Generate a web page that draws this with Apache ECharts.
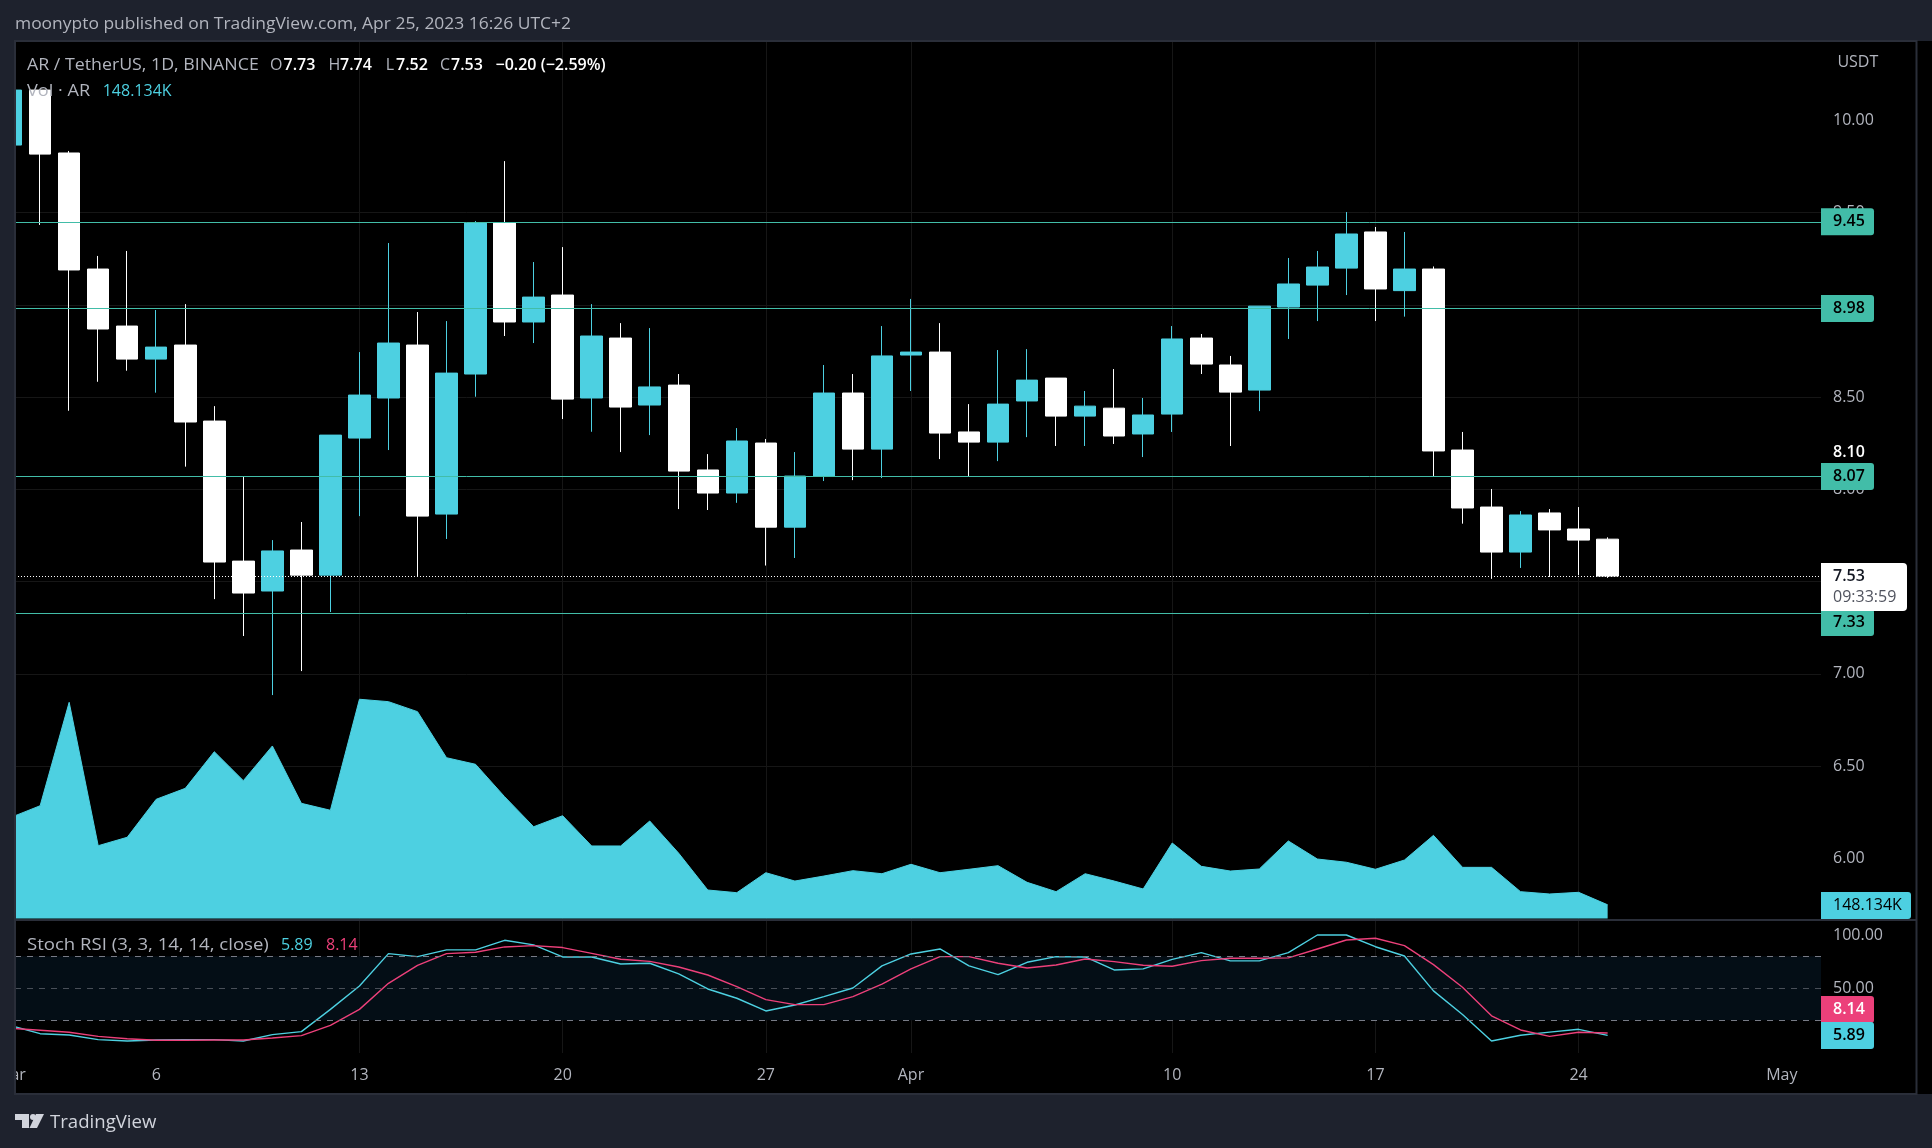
<!DOCTYPE html>
<html><head><meta charset="utf-8">
<style>html,body{margin:0;padding:0;background:#1e222d}#c{width:1932px;height:1148px}</style>
<script src="https://cdn.jsdelivr.net/npm/echarts@6/dist/echarts.min.js"></script>
</head><body><div id="c"></div>
<script>
const dates = ['2023-03-01','2023-03-02','2023-03-03','2023-03-04','2023-03-05','2023-03-06','2023-03-07','2023-03-08','2023-03-09','2023-03-10','2023-03-11','2023-03-12','2023-03-13','2023-03-14','2023-03-15','2023-03-16','2023-03-17','2023-03-18','2023-03-19','2023-03-20','2023-03-21','2023-03-22','2023-03-23','2023-03-24','2023-03-25','2023-03-26','2023-03-27','2023-03-28','2023-03-29','2023-03-30','2023-03-31','2023-04-01','2023-04-02','2023-04-03','2023-04-04','2023-04-05','2023-04-06','2023-04-07','2023-04-08','2023-04-09','2023-04-10','2023-04-11','2023-04-12','2023-04-13','2023-04-14','2023-04-15','2023-04-16','2023-04-17','2023-04-18','2023-04-19','2023-04-20','2023-04-21','2023-04-22','2023-04-23','2023-04-24','2023-04-25'];
const opens = [9.866,10.164,9.823,9.194,8.885,8.706,8.782,8.37,7.611,7.449,7.671,7.535,8.278,8.495,8.782,7.866,8.625,9.443,8.907,9.053,8.495,8.82,8.457,8.565,8.105,7.98,8.251,7.795,8.072,8.522,8.218,8.728,8.744,8.311,8.256,8.479,8.603,8.397,8.44,8.3,8.408,8.82,8.674,8.538,8.988,9.107,9.199,9.395,9.077,9.194,8.213,7.904,7.66,7.872,7.785,7.73];
const closes = [10.164,9.817,9.189,8.869,8.706,8.771,8.365,7.606,7.438,7.666,7.535,8.294,8.511,8.793,7.855,8.63,9.443,8.907,9.042,8.489,8.831,8.446,8.555,8.099,7.98,8.262,7.795,8.072,8.522,8.218,8.723,8.744,8.305,8.256,8.462,8.592,8.397,8.451,8.289,8.403,8.815,8.679,8.527,8.993,9.113,9.205,9.384,9.086,9.194,8.208,7.899,7.66,7.861,7.78,7.725,7.53];
const lows = [9.866,9.433,8.426,8.583,8.643,8.524,8.123,7.405,7.205,6.885,7.015,7.335,7.855,8.213,7.526,7.731,8.502,8.831,8.793,8.381,8.312,8.202,8.294,7.893,7.888,7.927,7.587,7.628,8.045,8.05,8.061,8.533,8.164,8.072,8.153,8.283,8.235,8.235,8.246,8.175,8.311,8.625,8.235,8.424,8.815,8.912,9.053,8.912,8.936,8.072,7.814,7.515,7.574,7.525,7.535,7.52];
const highs = [10.164,10.164,9.834,9.265,9.292,8.972,9.004,8.451,8.072,7.725,7.823,8.294,8.744,9.335,8.961,8.912,9.454,9.779,9.232,9.313,9.004,8.901,8.874,8.625,8.191,8.332,8.273,8.202,8.674,8.625,8.885,9.032,8.901,8.462,8.755,8.76,8.603,8.533,8.652,8.495,8.885,8.842,8.723,8.993,9.254,9.292,9.503,9.422,9.395,9.208,8.311,8.002,7.882,7.893,7.904,7.74];
const volumes = [1094,1219,2337,787,878,1289,1407,1803,1490,1865,1245,1170,2370,2344,2236,1738,1667,1317,992,1111,784,784,1054,705,308,279,495,405,459,517,484,586,495,532,571,391,290,484,405,319,816,564,513,535,838,643,608,532,632,899,553,553,290,265,283,148.134];
const stochK = [15,7.5,6.3,1.9,0.6,1.6,1.9,1.9,0.6,6.6,9.4,30.3,52.2,82.5,79.7,86,86,95,90.7,79.4,79.4,72.8,73.5,63.5,49.4,40.7,28.8,34.4,42.2,50.3,71,82.2,86.9,71,62.8,74.4,79.7,79.4,67.2,68.2,77.2,83.5,75.7,75.7,83.5,100,100,89,80.3,47.6,25.5,0.6,6,9,11.6,5.89];
const stochD = [12.5,10.7,8.8,5,2.8,1.3,1.3,1.6,1.6,3.5,5.7,15.3,30.3,54.7,71.6,82.5,83.8,88.8,90,88.2,82.8,77.2,75.3,70,62.5,51.6,39.4,34.7,34.7,42.2,54,68.2,79.7,79.7,73.5,69,71.9,77.5,75,71.6,70.7,76,78.2,78.2,78.5,86.9,95.3,96.9,90,72.2,51,24.2,11,5,8.8,8.14];
const priceTicks = [10,9.5,9,8.5,8,7.5,7,6.5,6];
const stochTicks = [100,50,0];
const stochLevels = [80,50,20];
const supportLevels = [9.45,8.98,8.07,7.33];
const timeTickDates = ['2023-03-06','2023-03-13','2023-03-20','2023-03-27','2023-04-01','2023-04-10','2023-04-17','2023-04-24','2023-05-01'];
const timeTickLabels = ['6','13','20','27','Apr','10','17','24','May'];
const lastPrice = 7.53;

const UP='#4dd0e1', DOWN='#ffffff', TEAL='#42bda8', PINK='#ec407a', GRID='#161616', TXT='#b2b5be', BG='#1e222d';
const FONT='"Open Sans", sans-serif', FS=16;
const DAY = 86400000, T0 = Date.parse(dates[0]+'T00:00:00Z');
const dayOf = d => Math.round((Date.parse(d+'T00:00:00Z')-T0)/DAY);
const xMin = 0.134, xMax = 62.35;
const tickDays = timeTickDates.map(dayOf);
const tickMap = {}; tickDays.forEach((t,i)=>tickMap[t]=timeTickLabels[i]);

const candles = dates.map((d,i)=>[dayOf(d),opens[i],closes[i],lows[i],highs[i]]);
const xy = arr => dates.map((d,i)=>[dayOf(d),arr[i]]);
const xAxisBase = {type:'value',min:xMin,max:xMax,axisLine:{show:false},axisTick:{show:false,customValues:tickDays},
  splitLine:{show:true,showMinLine:false,showMaxLine:false,lineStyle:{color:GRID,width:1}},minorTick:{show:false}};
const dashed = (v,op)=>({yAxis:v,lineStyle:{color:'#787b86',type:[6,6],width:1,opacity:op}});

const chart = echarts.init(document.getElementById('c'),null,{renderer:'canvas'});
chart.setOption({
  animation:false, backgroundColor:BG,
  grid:[{left:15,width:1806,top:41,height:877.5},{left:15,width:1806,top:921,height:132}],
  xAxis:[
    Object.assign({},xAxisBase,{gridIndex:0,axisLabel:{show:false,customValues:tickDays}}),
    Object.assign({},xAxisBase,{gridIndex:1,axisLabel:{show:true,customValues:tickDays,color:TXT,fontFamily:FONT,fontSize:FS,margin:14,hideOverlap:false,showMinLabel:true,showMaxLabel:true,formatter:v=>tickMap[v]||''}})
  ],
  yAxis:[
    {type:'value',gridIndex:0,position:'right',min:5.674,max:10.43,axisLine:{show:false},
      axisTick:{show:false,customValues:priceTicks},splitLine:{show:true,showMinLine:false,showMaxLine:false,lineStyle:{color:GRID}},
      axisLabel:{color:TXT,fontFamily:FONT,fontSize:FS,margin:12,padding:[2,0,0,0],customValues:priceTicks,formatter:v=>v.toFixed(2)}},
    {type:'value',gridIndex:0,position:'left',min:0,max:9486,show:false,splitLine:{show:false}},
    {type:'value',gridIndex:1,position:'right',min:-10.6,max:113.1,axisLine:{show:false},
      axisTick:{show:false,customValues:stochTicks},splitLine:{show:true,showMinLine:false,showMaxLine:false,lineStyle:{color:GRID}},
      axisLabel:{color:TXT,fontFamily:FONT,fontSize:FS,margin:12,padding:[2,0,0,0],customValues:stochTicks,formatter:v=>v.toFixed(2)}}
  ],
  series:[
    {name:'Vol',type:'line',xAxisIndex:0,yAxisIndex:1,data:xy(volumes),showSymbol:false,symbol:'none',z:1,
      lineStyle:{color:UP,width:1},areaStyle:{color:UP,opacity:1,origin:'start'},silent:true},
    {name:'AR',type:'candlestick',xAxisIndex:0,yAxisIndex:0,layout:'horizontal',data:candles,barWidth:22,z:3,silent:true,
      encode:{x:0,y:[1,2,3,4]},
      itemStyle:{color:UP,color0:DOWN,borderColor:UP,borderColor0:DOWN,borderWidth:1},
      markLine:{silent:true,symbol:'none',animation:false,label:{show:false},
        data:supportLevels.map(v=>({yAxis:v,lineStyle:{color:TEAL,width:1,type:'solid'}}))
          .concat([{yAxis:lastPrice,lineStyle:{color:'#ffffff',width:1,type:[1,2]}}])}},
    {name:'K',type:'line',xAxisIndex:1,yAxisIndex:2,data:xy(stochK),showSymbol:false,symbol:'none',z:3,silent:true,
      lineStyle:{color:UP,width:1.4},
      markArea:{silent:true,itemStyle:{color:'#040e16'},label:{show:false},data:[[{yAxis:stochLevels[2]},{yAxis:stochLevels[0]}]]},
      markLine:{silent:true,symbol:'none',label:{show:false},data:[dashed(80,1),dashed(50,0.6),dashed(20,1)]}},
    {name:'D',type:'line',xAxisIndex:1,yAxisIndex:2,data:xy(stochD),showSymbol:false,symbol:'none',z:4,silent:true,
      lineStyle:{color:PINK,width:1.4}}
  ]
});

const Z=100;
function T(text,x,y,fill,opt){opt=opt||{};return {type:'text',x,y,scaleX:opt.sx||1,z:Z+5,silent:true,style:{text,fill,font:(opt.weight?opt.weight+' ':'')+(opt.size||FS)+'px '+FONT,verticalAlign:'middle',align:opt.align||'left'}};}
function R(x,y,w,h,fill,r,z){return {type:'rect',silent:true,z:z||Z+1,shape:{x,y,width:w,height:h,r:r||0},style:{fill}};}
function tag(axis,val,text,fill,tc,w,shift){
  const cy = chart.convertToPixel({yAxisIndex:axis},val)+(shift||0);
  return [R(1821,cy-13.5,w,27,fill,[0,3,3,0]),T(text,1833,cy,tc,{weight:600})];
}
const priceY = v=>chart.convertToPixel({yAxisIndex:0},v);
const lastY = priceY(lastPrice);
const LOGO='#d1d4dc';
const B={weight:600};
const g = [
  R(0,41,1932,1053,'#000',0,-5),
  R(0,0,15,1148,BG,0,Z-1),
  T('Mar',11,1075,TXT,{align:'center'}),
  R(0,1050,15,50,BG,0,Z+6),
  T('moonypto published on TradingView.com, Apr 25, 2023 16:26 UTC+2',15,24,TXT,{sx:1.089}),
  T('AR / TetherUS, 1D, BINANCE',27,65,TXT,{sx:1.11}),
  T('O',270,65,TXT),T('7.73',283.5,65,'#fff',B),
  T('H',328.6,65,TXT),T('7.74',340,65,'#fff',B),
  T('L',385.7,65,TXT),T('7.52',396,65,'#fff',B),
  T('C',440,65,TXT),T('7.53',451,65,'#fff',B),
  T('−0.20 (−2.59%)',495.5,65,'#fff',B),
  T('Vol · AR',27,91.5,TXT,{sx:1.133}),T('148.134K',102.7,91.5,UP),
  T('Stoch RSI (3, 3, 14, 14, close)',27,945,TXT,{sx:1.16}),T('5.89',281,945,UP),T('8.14',326,945,PINK),
  T('USDT',1837.4,62,TXT),
  T('8.10',1833,452.7,'#fff',B),
  ...tag(0,9.45,'9.45',TEAL,'#000',53),
  ...tag(0,8.98,'8.98',TEAL,'#000',53),
  ...tag(0,8.07,'8.07',TEAL,'#000',53),
  ...tag(0,7.33,'7.33',TEAL,'#000',53,9.5),
  R(1821,lastY-13,86,48,'#fff',[0,4,4,0],Z+2),
  T('7.53',1833,lastY,'#131722',B),T('09:33:59',1833,lastY+21,'#50535e'),
  ...tag(2,8.14,'8.14',PINK,'#fff',53,-23.5),
  ...tag(2,5.89,'5.89',UP,'#000',53),
  R(1821,892,90,27,UP,[0,3,3,0]),T('148.134K',1833,905.5,'#000'),
  {type:'rect',silent:true,z:Z+7,shape:{x:15,y:41,width:1901.5,height:1053},style:{fill:'none',stroke:'#2a2e39',lineWidth:2}},
  {type:'line',silent:true,z:Z+7,shape:{x1:15,y1:920,x2:1916,y2:920},style:{stroke:'#2a2e39',lineWidth:2}},
  {type:'polygon',silent:true,z:Z+2,shape:{points:[[15,1114],[29,1114],[29,1128],[22,1128],[22,1120],[15,1120]]},style:{fill:LOGO}},
  {type:'circle',silent:true,z:Z+2,shape:{cx:33,cy:1117,r:3},style:{fill:LOGO}},
  {type:'polygon',silent:true,z:Z+2,shape:{points:[[36,1114],[44,1114],[37,1128],[29.5,1128]]},style:{fill:LOGO}},
  T('TradingView',50,1123,LOGO,{size:18.6})
];
chart.setOption({graphic:{elements:g}});
</script></body></html>
